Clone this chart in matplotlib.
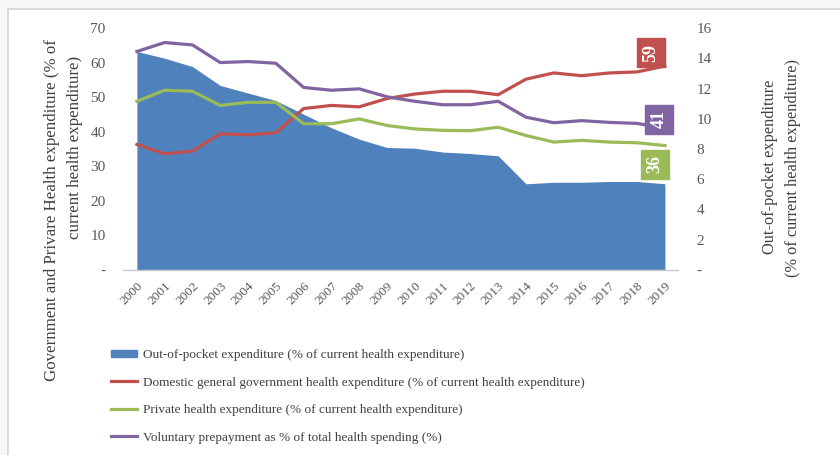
import matplotlib
matplotlib.use("Agg")
import matplotlib.pyplot as plt
from matplotlib.patches import Rectangle, Patch
from matplotlib.lines import Line2D

years = [str(y) for y in range(2000, 2020)]

# Out-of-pocket expenditure (right axis)
out_of_pocket = [14.45, 14.0, 13.45, 12.2, 11.7, 11.2, 10.3, 9.4, 8.65, 8.1,
                 8.05, 7.8, 7.7, 7.55, 5.7, 5.8, 5.8, 5.85, 5.85, 5.7]
# Domestic general government health expenditure (left axis)
government = [36.3, 33.6, 34.4, 39.4, 39.1, 39.7, 46.7, 47.6, 47.2, 49.6,
              50.9, 51.7, 51.7, 50.7, 55.2, 57.0, 56.2, 57.0, 57.3, 59]
# Private health expenditure (left axis)
private = [48.8, 52.0, 51.7, 47.6, 48.5, 48.5, 42.3, 42.3, 43.7, 41.8,
           40.8, 40.4, 40.3, 41.3, 38.9, 37.0, 37.5, 37.0, 36.8, 36]
# Voluntary prepayment (left axis)
voluntary = [63.2, 65.8, 65.1, 60.0, 60.3, 59.8, 52.8, 52.0, 52.4, 50.1,
             48.8, 47.8, 47.8, 48.8, 44.2, 42.6, 43.2, 42.7, 42.4, 41]

left_ticks = [0, 10, 20, 30, 40, 50, 60, 70]
right_ticks = [0, 2, 4, 6, 8, 10, 12, 14, 16]

legend_labels = [
    "Out-of-pocket expenditure (% of current health expenditure)",
    "Domestic general government health expenditure (% of current health expenditure)",
    "Private health expenditure (% of current health expenditure)",
    "Voluntary prepayment as % of total health spending (%)",
]

BLUE = "#4F81BD"
RED = "#C0504D"
GREEN = "#9BBB59"
PURPLE = "#8064A2"
GREY = "#595959"
SERIF = ["Liberation Serif", "DejaVu Serif"]

plt.rcParams["font.family"] = SERIF

W, H = 840, 455
fig = plt.figure(figsize=(W / 100, H / 100), dpi=100, facecolor="#f7f7f7")

# page frame: only the top and left edges fall inside the figure
top = 1 - 9 / H
fig.patches.append(Rectangle((8 / W, -1), 2, 1 + top, transform=fig.transFigure,
                             facecolor="white", edgecolor="#d6d6d6", linewidth=1.2,
                             zorder=-10))

ax = fig.add_axes([123 / W, 1 - 270 / H, 555 / W, 242 / H])
ax2 = ax.twinx()
ax.set_zorder(ax2.get_zorder() + 1)
ax.patch.set_visible(False)

x = list(range(len(years)))

ax2.fill_between(x, out_of_pocket, 0, color=BLUE, linewidth=0)
ax.plot(x, government, color=RED, lw=2.3, solid_joinstyle="round")
ax.plot(x, private, color=GREEN, lw=2.3, solid_joinstyle="round")
ax.plot(x, voluntary, color=PURPLE, lw=2.3, solid_joinstyle="round")

ax.set_xlim(-0.5, len(years) - 1 + 0.47)
ax.set_ylim(0, 70)
ax2.set_ylim(0, 16)

for a in (ax, ax2):
    for s in a.spines.values():
        s.set_visible(False)
ax.spines["bottom"].set_visible(True)
ax.spines["bottom"].set_color("#c8c8c8")
ax.spines["bottom"].set_linewidth(1)

ax.set_yticks(left_ticks)
ax.set_yticklabels(["-" if v == 0 else str(v) for v in left_ticks])
ax2.set_yticks(right_ticks)
ax2.set_yticklabels(["-" if v == 0 else str(v) for v in right_ticks])
ax.tick_params(axis="y", length=0, pad=12.5, labelsize=11, labelcolor=GREY)
ax2.tick_params(axis="y", length=0, pad=13.5, labelsize=11, labelcolor=GREY)

ax.set_xticks(x)
ax.set_xticklabels(years, rotation=45, ha="right", rotation_mode="anchor")
ax.tick_params(axis="x", length=0, pad=7, labelsize=9.5, labelcolor=GREY)

# axis titles
fig.text(52 / W, 1 - 210 / H, "Government and Privare Health expenditure (% of",
         rotation=90, ha="center", va="center", fontsize=12.2, color="#404040")
fig.text(75 / W, 1 - 147 / H, "current health expenditure)",
         rotation=90, ha="center", va="center", fontsize=12.2, color="#404040")
fig.text(770 / W, 1 - 167 / H, "Out-of-pocket expenditure",
         rotation=90, ha="center", va="center", fontsize=11.8, color="#404040")
fig.text(793 / W, 1 - 168 / H, "(% of current health expenditure)",
         rotation=90, ha="center", va="center", fontsize=11.8, color="#404040")

# end-of-line value labels
last = len(years) - 1
for series, col, off in ((government, RED, (-10, 9.5)),
                         (voluntary, PURPLE, (-4, 6.5)),
                         (private, GREEN, (-7, -13.5))):
    ax.annotate(f"{series[-1]:.0f}", (last, series[-1]), xytext=off,
                textcoords="offset points", rotation=90, ha="center", va="center",
                color="white", fontsize=13, fontweight="bold",
                bbox=dict(boxstyle="square,pad=0.3", facecolor=col, edgecolor=col),
                zorder=10, annotation_clip=False)

handles = [
    Patch(facecolor=BLUE, edgecolor=BLUE),
    Line2D([], [], color=RED, lw=2.3),
    Line2D([], [], color=GREEN, lw=2.3),
    Line2D([], [], color=PURPLE, lw=2.3),
]
leg = fig.legend(handles, legend_labels, loc="upper left",
                 bbox_to_anchor=(111 / W, 1 - 349 / H), frameon=False,
                 prop={"family": SERIF, "size": 9.5}, handlelength=2.0,
                 handleheight=0.5, handletextpad=0.4, labelspacing=1.18,
                 borderaxespad=0, borderpad=0)
for t in leg.get_texts():
    t.set_color("#404040")

fig.savefig("out.png", dpi=100, facecolor=fig.get_facecolor())
